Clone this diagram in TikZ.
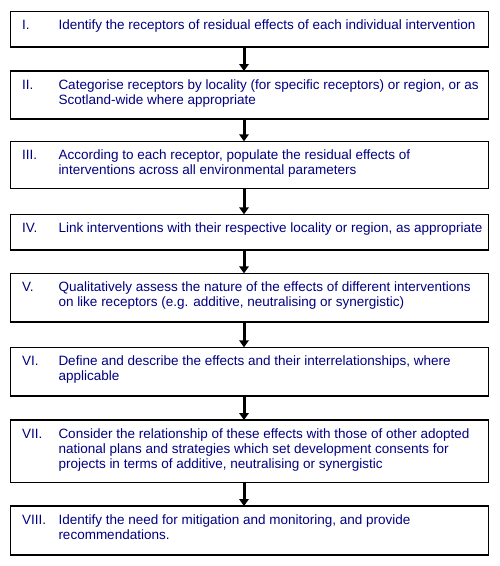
\documentclass[tikz,border=0pt]{standalone}
\usepackage{fontspec}
\setmainfont{Liberation Sans}
\usetikzlibrary{arrows.meta,calc}
\definecolor{navy}{RGB}{0,0,128}
\newcommand{\ls}{\rule{0pt}{10pt}}
\begin{document}
\begin{tikzpicture}[x=1pt,y=-1pt,
  stepbox/.style={draw=black,line width=1.2pt,rectangle,inner sep=0pt,outer sep=0pt,anchor=north west,minimum width=477.5pt},
  num/.style={anchor=base west,inner sep=0pt,text=navy,font=\fontsize{13.5}{15}\selectfont},
  txt/.style={anchor=north west,inner sep=0pt,text=navy,align=left,font=\fontsize{13.5}{15}\selectfont},
  arr/.style={line width=3pt,-{Triangle[length=7pt,width=9.5pt]}}]
\useasboundingbox (0,0) rectangle (499,566);
\node[stepbox,minimum height=35.7pt] (b1) at (10.8,11.3) {};
\node[stepbox,minimum height=48pt]   (b2) at (10.8,71) {};
\node[stepbox,minimum height=47pt]   (b3) at (10.8,141.3) {};
\node[stepbox,minimum height=35.7pt] (b4) at (10.8,214.3) {};
\node[stepbox,minimum height=48.7pt] (b5) at (10.8,273.3) {};
\node[stepbox,minimum height=48.7pt] (b6) at (10.8,347.3) {};
\node[stepbox,minimum height=62.3pt] (b7) at (10.8,420) {};
\node[stepbox,minimum height=49pt]   (b8) at (10.8,506) {};

\node[num] (n1) at ($(b1.north west)+(11,18)$) {I.};
\node[txt] (t1) at ($(b1.north west)+(47.5,8)$) {\ls Identify the receptors of residual effects of each individual intervention};
\node[num] (n2) at ($(b2.north west)+(11,18.5)$) {II.};
\node[txt] (t2) at ($(b2.north west)+(47.5,8.5)$) {\ls Categorise receptors by locality (for specific receptors) or region, or as\\Scotland-wide where appropriate};
\node[num] (n3) at ($(b3.north west)+(11,18)$) {III.};
\node[txt] (t3) at ($(b3.north west)+(47.5,8)$) {\ls According to each receptor, populate the residual effects of\\interventions across all environmental parameters};
\node[num] (n4) at ($(b4.north west)+(11,18)$) {IV.};
\node[txt] (t4) at ($(b4.north west)+(47.5,8)$) {\ls Link interventions with their respective locality or region, as appropriate};
\node[num] (n5) at ($(b5.north west)+(11,18)$) {V.};
\node[txt] (t5) at ($(b5.north west)+(47.5,8)$) {\ls Qualitatively assess the nature of the effects of different interventions\\on like receptors (e.g. additive, neutralising or synergistic)};
\node[num] (n6) at ($(b6.north west)+(11,18)$) {VI.};
\node[txt] (t6) at ($(b6.north west)+(47.5,8)$) {\ls Define and describe the effects and their interrelationships, where\\applicable};
\node[num] (n7) at ($(b7.north west)+(11,18)$) {VII.};
\node[txt] (t7) at ($(b7.north west)+(47.5,8)$) {\ls Consider the relationship of these effects with those of other adopted\\national plans and strategies which set development consents for\\projects in terms of additive, neutralising or synergistic};
\node[num] (n8) at ($(b8.north west)+(11,18)$) {VIII.};
\node[txt] (t8) at ($(b8.north west)+(47.5,8)$) {\ls Identify the need for mitigation and monitoring, and provide\\recommendations.};

\coordinate (ax) at (244,0);
\draw[arr] (b1.south -| ax) -- (b2.north -| ax);
\draw[arr] (b2.south -| ax) -- (b3.north -| ax);
\draw[arr] (b3.south -| ax) -- (b4.north -| ax);
\draw[arr] (b4.south -| ax) -- (b5.north -| ax);
\draw[arr] (b5.south -| ax) -- (b6.north -| ax);
\draw[arr] (b6.south -| ax) -- (b7.north -| ax);
\draw[arr] (b7.south -| ax) -- (b8.north -| ax);
\end{tikzpicture}
\end{document}
